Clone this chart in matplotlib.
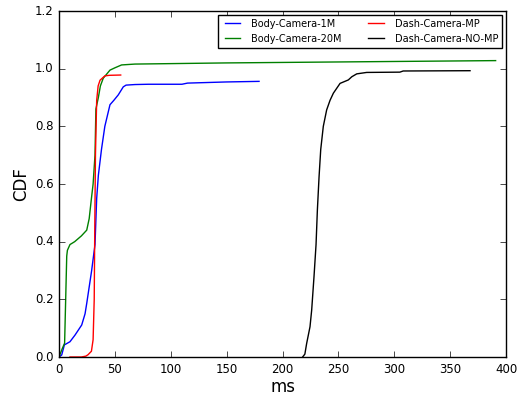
import numpy as np
import matplotlib
matplotlib.use("Agg")
import matplotlib.pyplot as plt

# CDF curves (ms, cdf)
body1m_ms = [0, 2.4, 4.8, 9.8, 14.3, 20.3, 23.3, 24.8, 29.2, 32.2, 33.7, 35.2, 38, 41, 45.6, 49, 53, 57.5, 60, 68, 80, 110, 115, 150, 179]
body1m_cdf = [0, 0.007, 0.042, 0.053, 0.076, 0.111, 0.15, 0.186, 0.30, 0.39, 0.55, 0.63, 0.72, 0.80, 0.875, 0.89, 0.909, 0.937, 0.943, 0.945, 0.946, 0.946, 0.95, 0.954, 0.956]

body20m_ms = [0, 3, 5, 6.9, 7.5, 9.8, 14, 20, 24.8, 27, 29, 30.5, 32.2, 33, 35.2, 37, 39.6, 45.6, 50, 56, 68, 150, 300, 390.7]
body20m_cdf = [0, 0.03, 0.048, 0.35, 0.37, 0.39, 0.40, 0.42, 0.44, 0.48, 0.55, 0.60, 0.70, 0.86, 0.90, 0.94, 0.967, 0.995, 1.003, 1.013, 1.016, 1.02, 1.025, 1.028]

dashmp_ms = [9.8, 20, 24, 26, 29, 30.5, 31.5, 32, 32.6, 33.7, 35, 36.7, 41, 45, 55.2]
dashmp_cdf = [0, 0, 0.003, 0.008, 0.02, 0.06, 0.20, 0.45, 0.70, 0.89, 0.94, 0.96, 0.975, 0.977, 0.978]

dashnomp_ms = [218, 220, 221.6, 224.6, 226.1, 228.2, 230, 231.2, 232.7, 234.2, 236.5, 239.5, 242.5, 245.5, 251.5, 258.9, 262, 266.4, 275.3, 305, 308, 367.8]
dashnomp_cdf = [0, 0.01, 0.047, 0.105, 0.163, 0.28, 0.39, 0.51, 0.625, 0.72, 0.80, 0.857, 0.89, 0.915, 0.949, 0.961, 0.972, 0.982, 0.987, 0.988, 0.992, 0.993]

series = [(body1m_ms, body1m_cdf, 'b', 'Body-Camera-1M'),
          (body20m_ms, body20m_cdf, 'g', 'Body-Camera-20M'),
          (dashmp_ms, dashmp_cdf, 'r', 'Dash-Camera-MP'),
          (dashnomp_ms, dashnomp_cdf, 'k', 'Dash-Camera-NO-MP')]

plt.style.use('classic')
plt.rcParams['font.family'] = 'DejaVu Sans'

fig = plt.figure(figsize=(5.2, 3.95), dpi=100, facecolor='white')
ax = fig.add_axes([0.1135, 0.0962, 0.8596, 0.8759])

for xs, ys, c, lab in series:
    ax.plot(xs, ys, color=c, lw=1.0, label=lab)

ax.set_xlim(0, 400)
ax.set_ylim(0, 1.2)
ax.set_xticks(np.arange(0, 401, 50))
ax.set_yticks(np.arange(0, 1.21, 0.2))
ax.tick_params(labelsize=8.5, length=4)
ax.set_xlabel('ms', fontsize=12, labelpad=2)
ax.set_ylabel('CDF', fontsize=12, labelpad=3)

ax.legend(loc='upper right', ncol=2, fontsize=7, frameon=True, handlelength=2.2,
          borderaxespad=0.4, columnspacing=2.5)

plt.savefig('out.png', dpi=100, facecolor='white')
